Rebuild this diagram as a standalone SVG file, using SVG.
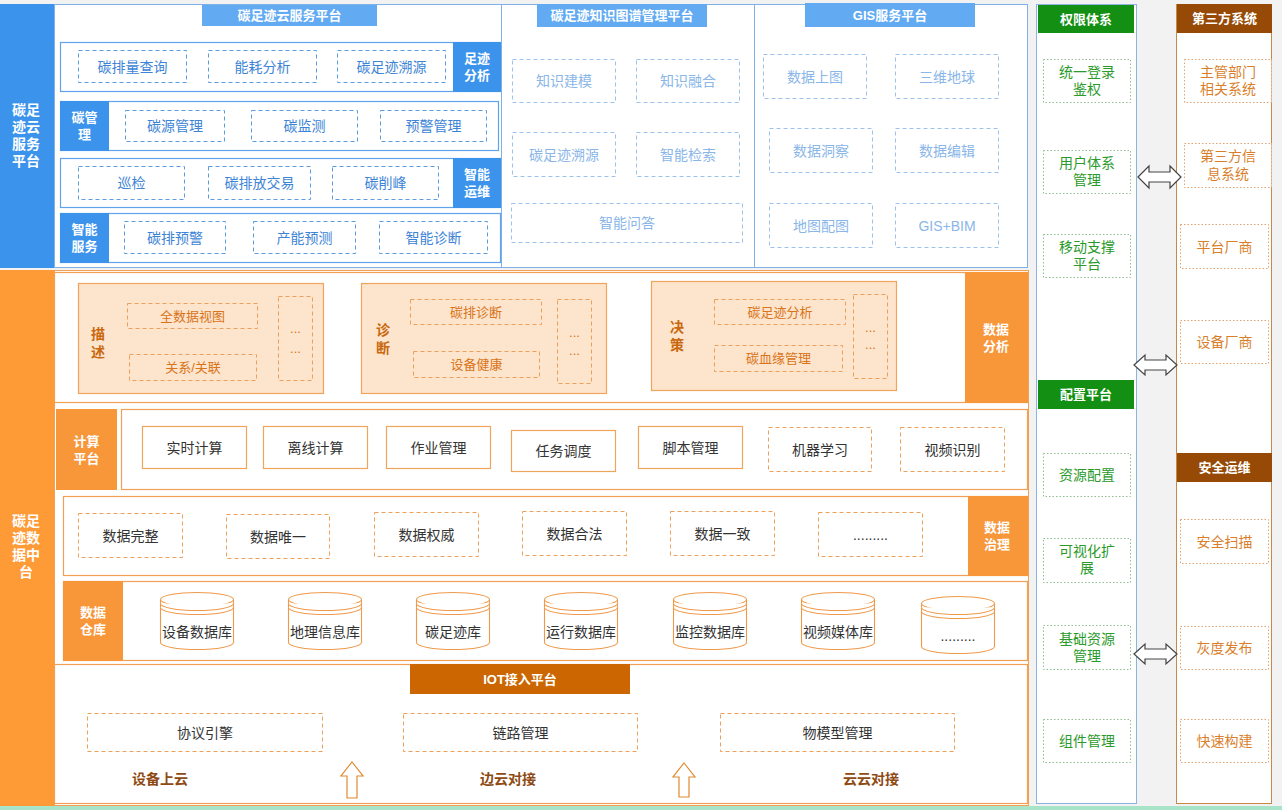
<svg xmlns="http://www.w3.org/2000/svg" width="1282" height="810" viewBox="0 0 1282 810">
<style>
text{font-family:"Liberation Sans","Noto Sans CJK SC",sans-serif;text-anchor:middle;dominant-baseline:central;}
.t13{font-size:13px}
.t14{font-size:14px}
.wb{fill:#fff;font-weight:bold;font-size:13px}
.wb14{fill:#fff;font-weight:bold;font-size:14px}
.bdash{fill:#fff;stroke:#5b9ce0;stroke-width:1;stroke-dasharray:4 3}
.btxt{fill:#3d84d6;font-size:14px}
.ldash{fill:#fff;stroke:#9cc2ec;stroke-width:1;stroke-dasharray:4 3}
.ltxt{fill:#8ab6e8;font-size:14px}
.brow{fill:#fff;stroke:#5fa3ec;stroke-width:1.2}
.blab{fill:#3b93ec}
.btitle{fill:#62aaf2}
.opan{fill:#fff;stroke:#f2a055;stroke-width:1.2}
.olab{fill:#f8963a}
.peach{fill:#fde4cc;stroke:#f0a55c;stroke-width:1.2}
.odash{fill:none;stroke:#eca05a;stroke-width:1;stroke-dasharray:4 3}
.odashw{fill:#fff;stroke:#eca05a;stroke-width:1;stroke-dasharray:4 3}
.osol{fill:#fff;stroke:#f0a55c;stroke-width:1.2}
.otxt{fill:#d9741a;font-size:13px}
.olbl{fill:#c9680e;font-size:14px;font-weight:bold}
.gtxt{fill:#333;font-size:14px}
.cyl{fill:#fff;stroke:#f0994a;stroke-width:1.1}
.gdot{fill:#fff;stroke:#8fbf8f;stroke-width:1;stroke-dasharray:1.5 2}
.gitem{fill:#2b9a2b;font-size:14px}
.rdot{fill:#fff;stroke:#e0a474;stroke-width:1;stroke-dasharray:1.5 2}
.ritem{fill:#d97f2c;font-size:14px}
.brown{fill:#8e4a12;font-size:14px;font-weight:bold}
.harrow{fill:#fff;stroke:#444;stroke-width:1.2}
.uarrow{fill:#fff;stroke:#e08a30;stroke-width:1.2}
</style>
<defs>
<g id="cylshape">
<path class="cyl" d="M0,7 V50 A36.5,7 0 0 0 73,50 V7"/>
<ellipse class="cyl" cx="36.5" cy="7" rx="36.5" ry="7"/>
<path class="cyl" d="M0,11 A36.5,7 0 0 0 73,11 M0,15 A36.5,7 0 0 0 73,15"/>
</g>
</defs>
<rect x="0" y="0" width="1282" height="810" fill="#f2f2f2"/>
<rect x="0" y="806" width="1282" height="4" fill="#a8e4c8"/>

<!-- TOP: cloud service platform -->
<g id="cloud-band">
<rect x="0" y="4" width="54" height="264" fill="#3b93ec"/>
<text class="wb14" x="26"><tspan x="26" y="110">碳足</tspan><tspan x="26" y="127">迹云</tspan><tspan x="26" y="144">服务</tspan><tspan x="26" y="161">平台</tspan></text>
</g>
<rect x="54" y="4" width="974" height="264" fill="#fff"/>
<g id="cloud-service-platform">
<rect x="54.5" y="4.5" width="447" height="263" fill="#fff" stroke="#7fb0e8"/>
<rect class="btitle" x="202" y="5" width="175" height="21"/>
<text class="wb" x="289.5" y="15.5">碳足迹云服务平台</text>
<g id="row-footprint">
<rect class="brow" x="60.5" y="42.5" width="440" height="49"/>
<rect class="blab" x="453" y="42" width="48" height="50"/>
<text class="wb"><tspan x="477" y="58">足迹</tspan><tspan x="477" y="75">分析</tspan></text>
<rect class="bdash" x="78.5" y="50.5" width="108" height="32"/><text class="btxt" x="132.5" y="66.5">碳排量查询</text>
<rect class="bdash" x="208.5" y="50.5" width="108" height="32"/><text class="btxt" x="262.5" y="66.5">能耗分析</text>
<rect class="bdash" x="337.5" y="50.5" width="108" height="32"/><text class="btxt" x="391.5" y="66.5">碳足迹溯源</text>
</g>
<g id="row-carbon-mgmt">
<rect class="brow" x="60.5" y="101.5" width="438" height="49"/>
<rect class="blab" x="60" y="101" width="49" height="50"/>
<text class="wb"><tspan x="84.5" y="117">碳管</tspan><tspan x="84.5" y="134">理</tspan></text>
<rect class="bdash" x="125.5" y="110.5" width="99" height="31"/><text class="btxt" x="175" y="126">碳源管理</text>
<rect class="bdash" x="251.5" y="110.5" width="106" height="31"/><text class="btxt" x="304.5" y="126">碳监测</text>
<rect class="bdash" x="380.5" y="110.5" width="106" height="31"/><text class="btxt" x="433.5" y="126">预警管理</text>
</g>
<g id="row-smart-ops">
<rect class="brow" x="60.5" y="158.5" width="440" height="49"/>
<rect class="blab" x="453" y="158" width="48" height="50"/>
<text class="wb"><tspan x="477" y="174">智能</tspan><tspan x="477" y="191">运维</tspan></text>
<rect class="bdash" x="78.5" y="166.5" width="106" height="33"/><text class="btxt" x="131.5" y="183">巡检</text>
<rect class="bdash" x="208.5" y="166.5" width="102" height="33"/><text class="btxt" x="259.5" y="183">碳排放交易</text>
<rect class="bdash" x="332.5" y="166.5" width="106" height="33"/><text class="btxt" x="385.5" y="183">碳削峰</text>
</g>
<g id="row-smart-service">
<rect class="brow" x="60.5" y="213.5" width="440" height="49"/>
<rect class="blab" x="60" y="213" width="49" height="50"/>
<text class="wb"><tspan x="84.5" y="229">智能</tspan><tspan x="84.5" y="246">服务</tspan></text>
<rect class="bdash" x="124.5" y="221.5" width="101" height="32"/><text class="btxt" x="175" y="238">碳排预警</text>
<rect class="bdash" x="253.5" y="221.5" width="102" height="32"/><text class="btxt" x="304.5" y="238">产能预测</text>
<rect class="bdash" x="379.5" y="221.5" width="108" height="32"/><text class="btxt" x="433.5" y="238">智能诊断</text>
</g>
</g>
<g id="knowledge-graph-platform">
<rect x="501.5" y="4.5" width="253" height="263" fill="#fff" stroke="#7fb0e8"/>
<rect class="btitle" x="537" y="4" width="170" height="23"/>
<text class="wb" x="622" y="15.5">碳足迹知识图谱管理平台</text>
<rect class="ldash" x="512.5" y="59.5" width="103" height="43"/><text class="ltxt" x="564" y="81">知识建模</text>
<rect class="ldash" x="636.5" y="59.5" width="103" height="43"/><text class="ltxt" x="688" y="81">知识融合</text>
<rect class="ldash" x="512.5" y="132.5" width="103" height="44"/><text class="ltxt" x="564" y="154.5">碳足迹溯源</text>
<rect class="ldash" x="636.5" y="132.5" width="103" height="44"/><text class="ltxt" x="688" y="154.5">智能检索</text>
<rect class="ldash" x="511.5" y="203.5" width="231" height="39"/><text class="ltxt" x="627" y="223">智能问答</text>
</g>
<g id="gis-platform">
<rect x="754.5" y="4.5" width="273" height="263" fill="#fff" stroke="#7fb0e8"/>
<rect class="btitle" x="805" y="3" width="170" height="24"/>
<text class="wb" x="890" y="15.5">GIS服务平台</text>
<rect class="ldash" x="763.5" y="54.5" width="103" height="44"/><text class="ltxt" x="815" y="76.5">数据上图</text>
<rect class="ldash" x="895.5" y="54.5" width="103" height="44"/><text class="ltxt" x="947" y="76.5">三维地球</text>
<rect class="ldash" x="769.5" y="128.5" width="103" height="44"/><text class="ltxt" x="821" y="150.5">数据洞察</text>
<rect class="ldash" x="895.5" y="128.5" width="103" height="44"/><text class="ltxt" x="947" y="150.5">数据编辑</text>
<rect class="ldash" x="769.5" y="203.5" width="103" height="44"/><text class="ltxt" x="821" y="225.5">地图配图</text>
<rect class="ldash" x="895.5" y="203.5" width="103" height="44"/><text class="ltxt" x="947" y="225.5">GIS+BIM</text>
</g>

<!-- MIDDLE: data platform -->
<g id="data-band">
<rect x="0" y="270" width="54" height="536" fill="#ff9b37"/>
<text class="wb14"><tspan x="26" y="521">碳足</tspan><tspan x="26" y="538">迹数</tspan><tspan x="26" y="555">据中</tspan><tspan x="26" y="572">台</tspan></text>
</g>
<rect x="54.5" y="270.5" width="974" height="535" fill="#fff" stroke="#f2a055"/>
<g id="data-analysis">
<rect class="opan" x="54.5" y="272.5" width="973" height="130"/>
<rect class="olab" x="965" y="272" width="63" height="131"/>
<text class="wb"><tspan x="996" y="329">数据</tspan><tspan x="996" y="346">分析</tspan></text>
<g id="describe">
<rect class="peach" x="78.5" y="283.5" width="245" height="110"/>
<text class="olbl"><tspan x="98" y="334">描</tspan><tspan x="98" y="352">述</tspan></text>
<rect class="odash" x="127.5" y="303.5" width="130" height="25"/><text class="otxt" x="192.5" y="316">全数据视图</text>
<rect class="odash" x="129.5" y="354.5" width="127" height="26"/><text class="otxt" x="193" y="367.5">关系/关联</text>
<rect class="odash" x="278.5" y="296.5" width="34" height="84"/>
<text class="otxt"><tspan x="295.5" y="328">...</tspan><tspan x="295.5" y="348">...</tspan></text>
</g>
<g id="diagnose">
<rect class="peach" x="361.5" y="283.5" width="245" height="110"/>
<text class="olbl"><tspan x="383" y="330">诊</tspan><tspan x="383" y="348">断</tspan></text>
<rect class="odash" x="410.5" y="299.5" width="131" height="25"/><text class="otxt" x="476" y="312">碳排诊断</text>
<rect class="odash" x="413.5" y="351.5" width="126" height="26"/><text class="otxt" x="476.5" y="364.5">设备健康</text>
<rect class="odash" x="557.5" y="299.5" width="34" height="84"/>
<text class="otxt"><tspan x="574.5" y="332">...</tspan><tspan x="574.5" y="350">...</tspan></text>
</g>
<g id="decide">
<rect class="peach" x="651.5" y="281.5" width="245" height="109"/>
<text class="olbl"><tspan x="677" y="327">决</tspan><tspan x="677" y="345">策</tspan></text>
<rect class="odash" x="714.5" y="299.5" width="131" height="25"/><text class="otxt" x="780" y="312">碳足迹分析</text>
<rect class="odash" x="714.5" y="345.5" width="128" height="26"/><text class="otxt" x="778.5" y="358.5">碳血缘管理</text>
<rect class="odash" x="853.5" y="294.5" width="34" height="84"/>
<text class="otxt"><tspan x="870.5" y="327">...</tspan><tspan x="870.5" y="344">...</tspan></text>
</g>
</g>
<g id="compute-platform">
<rect class="olab" x="56" y="409" width="61" height="81"/>
<text class="wb"><tspan x="86.5" y="441">计算</tspan><tspan x="86.5" y="458">平台</tspan></text>
<rect class="opan" x="121.5" y="409.5" width="906" height="80"/>
<rect class="osol" x="142.5" y="426.5" width="104" height="42"/><text class="gtxt" x="194.5" y="447.5">实时计算</text>
<rect class="osol" x="263.5" y="426.5" width="104" height="42"/><text class="gtxt" x="315.5" y="447.5">离线计算</text>
<rect class="osol" x="386.5" y="426.5" width="104" height="42"/><text class="gtxt" x="438.5" y="447.5">作业管理</text>
<rect class="osol" x="511.5" y="430.5" width="104" height="41"/><text class="gtxt" x="563.5" y="451">任务调度</text>
<rect class="osol" x="638.5" y="426.5" width="104" height="42"/><text class="gtxt" x="690.5" y="447.5">脚本管理</text>
<rect class="odashw" x="768.5" y="427.5" width="103" height="44"/><text class="gtxt" x="820" y="449.5">机器学习</text>
<rect class="odashw" x="900.5" y="427.5" width="104" height="44"/><text class="gtxt" x="952.5" y="449.5">视频识别</text>
</g>
<g id="data-governance">
<rect class="opan" x="63.5" y="496.5" width="964" height="79"/>
<rect class="olab" x="968" y="496" width="60" height="80"/>
<text class="wb"><tspan x="997" y="527">数据</tspan><tspan x="997" y="544">治理</tspan></text>
<rect class="odashw" x="78.5" y="513.5" width="104" height="44"/><text class="gtxt" x="130.5" y="535.5">数据完整</text>
<rect class="odashw" x="226.5" y="514.5" width="103" height="44"/><text class="gtxt" x="278" y="536.5">数据唯一</text>
<rect class="odashw" x="374.5" y="512.5" width="104" height="44"/><text class="gtxt" x="426.5" y="534.5">数据权威</text>
<rect class="odashw" x="522.5" y="511.5" width="104" height="44"/><text class="gtxt" x="574.5" y="533.5">数据合法</text>
<rect class="odashw" x="670.5" y="511.5" width="104" height="44"/><text class="gtxt" x="722.5" y="533.5">数据一致</text>
<rect class="odashw" x="818.5" y="512.5" width="104" height="44"/><text class="gtxt" x="870.5" y="534.5">.........</text>
</g>
<g id="data-warehouse">
<rect class="opan" x="63.5" y="581.5" width="964" height="79"/>
<rect class="olab" x="63" y="581" width="60" height="80"/>
<text class="wb"><tspan x="93" y="612">数据</tspan><tspan x="93" y="629">仓库</tspan></text>
<use href="#cylshape" x="160.5" y="592.5"/><text class="gtxt" x="197" y="632">设备数据库</text>
<use href="#cylshape" x="288.5" y="592.5"/><text class="gtxt" x="325" y="632">地理信息库</text>
<use href="#cylshape" x="416.5" y="592.5"/><text class="gtxt" x="453" y="632">碳足迹库</text>
<use href="#cylshape" x="544.5" y="592.5"/><text class="gtxt" x="581" y="632">运行数据库</text>
<use href="#cylshape" x="673.5" y="592.5"/><text class="gtxt" x="710" y="632">监控数据库</text>
<use href="#cylshape" x="801.5" y="592.5"/><text class="gtxt" x="838" y="632">视频媒体库</text>
<use href="#cylshape" x="921.5" y="596.5"/><text class="gtxt" x="958" y="636">.........</text>
</g>
<g id="iot-platform">
<rect class="opan" x="54.5" y="664.5" width="973" height="139"/>
<rect x="410" y="664" width="220" height="30" fill="#cc6600"/>
<text class="wb" x="520" y="679">IOT接入平台</text>
<rect class="odashw" x="87.5" y="713.5" width="235" height="38"/><text class="gtxt" x="205" y="732.5">协议引擎</text>
<rect class="odashw" x="403.5" y="713.5" width="234" height="38"/><text class="gtxt" x="520.5" y="732.5">链路管理</text>
<rect class="odashw" x="720.5" y="713.5" width="234" height="38"/><text class="gtxt" x="837.5" y="732.5">物模型管理</text>
<text class="brown" x="160" y="779">设备上云</text>
<text class="brown" x="508" y="779">边云对接</text>
<text class="brown" x="871" y="779">云云对接</text>
</g>

<!-- RIGHT columns -->
<g id="permission-config">
<rect x="1036.5" y="4.5" width="100" height="799" fill="#fff" stroke="#8db3e2"/>
<rect x="1038" y="5" width="96" height="28" fill="#138f13"/>
<text class="wb" x="1086" y="19">权限体系</text>
<rect class="gdot" x="1043.5" y="59.5" width="87" height="43"/><text class="gitem"><tspan x="1087" y="72">统一登录</tspan><tspan x="1087" y="89">鉴权</tspan></text>
<rect class="gdot" x="1043.5" y="150.5" width="87" height="43"/><text class="gitem"><tspan x="1087" y="163">用户体系</tspan><tspan x="1087" y="180">管理</tspan></text>
<rect class="gdot" x="1043.5" y="234.5" width="87" height="43"/><text class="gitem"><tspan x="1087" y="247">移动支撑</tspan><tspan x="1087" y="264">平台</tspan></text>
<rect x="1038" y="380" width="96" height="29" fill="#138f13"/>
<text class="wb" x="1086" y="394.5">配置平台</text>
<rect class="gdot" x="1043.5" y="453.5" width="87" height="43"/><text class="gitem" x="1087" y="475">资源配置</text>
<rect class="gdot" x="1043.5" y="538.5" width="87" height="44"/><text class="gitem"><tspan x="1087" y="551">可视化扩</tspan><tspan x="1087" y="568">展</tspan></text>
<rect class="gdot" x="1043.5" y="625.5" width="87" height="44"/><text class="gitem"><tspan x="1087" y="639">基础资源</tspan><tspan x="1087" y="656">管理</tspan></text>
<rect class="gdot" x="1043.5" y="719.5" width="87" height="43"/><text class="gitem" x="1087" y="741">组件管理</text>
</g>
<g id="third-party">
<rect x="1176.5" y="4.5" width="95" height="799" fill="#fff" stroke="#c8884a"/>
<rect x="1177" y="4" width="95" height="29" fill="#964a06"/>
<text class="wb" x="1224.5" y="18.5">第三方系统</text>
<rect class="rdot" x="1184.5" y="59.5" width="87" height="43"/><text class="ritem"><tspan x="1228" y="72">主管部门</tspan><tspan x="1228" y="89">相关系统</tspan></text>
<rect class="rdot" x="1184.5" y="143.5" width="87" height="44"/><text class="ritem"><tspan x="1228" y="156">第三方信</tspan><tspan x="1228" y="174">息系统</tspan></text>
<rect class="rdot" x="1180.5" y="224.5" width="88" height="44"/><text class="ritem" x="1224.5" y="246.5">平台厂商</text>
<rect class="rdot" x="1180.5" y="320.5" width="88" height="43"/><text class="ritem" x="1224.5" y="342">设备厂商</text>
<rect x="1177" y="453" width="95" height="29" fill="#964a06"/>
<text class="wb" x="1224.5" y="467.5">安全运维</text>
<rect class="rdot" x="1180.5" y="519.5" width="88" height="44"/><text class="ritem" x="1224.5" y="541.5">安全扫描</text>
<rect class="rdot" x="1180.5" y="626.5" width="88" height="43"/><text class="ritem" x="1224.5" y="648">灰度发布</text>
<rect class="rdot" x="1180.5" y="719.5" width="88" height="43"/><text class="ritem" x="1224.5" y="741">快速构建</text>
</g>

<g id="connectors">
<polygon class="harrow" points="1138,177 1149,166 1149,172 1170,172 1170,166 1181,177 1170,188 1170,182 1149,182 1149,188"/>
<polygon class="harrow" points="1134,365 1145,355 1145,360 1166,360 1166,355 1177,365 1166,375 1166,370 1145,370 1145,375"/>
<polygon class="harrow" points="1134,654 1145,644 1145,649 1166,649 1166,644 1177,654 1166,664 1166,659 1145,659 1145,664"/>
<polygon class="uarrow" points="352,762 363,776 357,776 357,798 347,798 347,776 341,776"/>
<polygon class="uarrow" points="684,763 695,777 689,777 689,797 679,797 679,777 673,777"/>
</g>
</svg>
